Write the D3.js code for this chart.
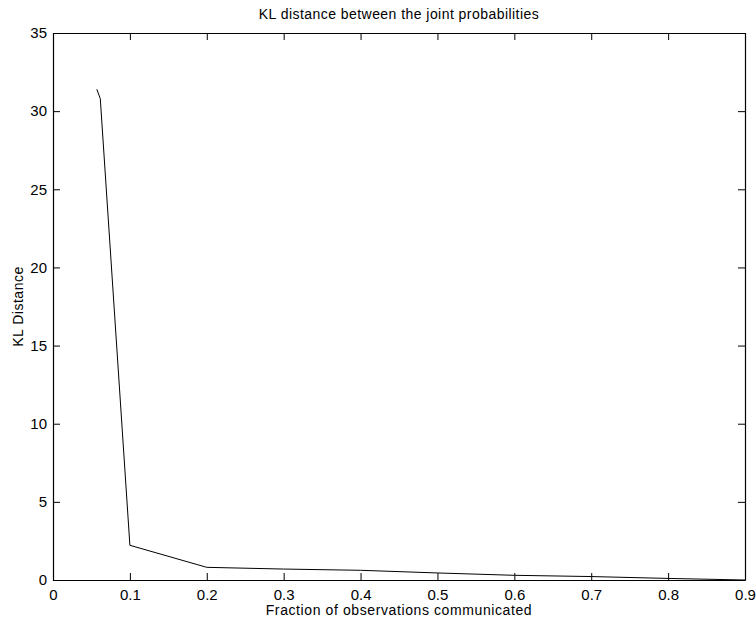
<!DOCTYPE html>
<html>
<head>
<meta charset="utf-8">
<script src="https://cdn.jsdelivr.net/npm/d3@7"></script>
<style>
  body { margin: 0; background: #fff; }
  svg text { font-family: "Liberation Sans", Arial, Helvetica, sans-serif; }
</style>
</head>
<body>
<svg id="chart"></svg>
<script>
// fraction of observations communicated vs KL distance
var fractions = [0.057, 0.0615, 0.1, 0.2, 0.3, 0.4, 0.5, 0.6, 0.7, 0.8, 0.9];
var klDist = [31.4, 30.8, 2.22, 0.81, 0.70, 0.62, 0.45, 0.30, 0.22, 0.10, 0.0];
var xTicks = [0, 0.1, 0.2, 0.3, 0.4, 0.5, 0.6, 0.7, 0.8, 0.9];
var yTicks = [0, 5, 10, 15, 20, 25, 30, 35];

var margin = {top: 33, right: 11, bottom: 40, left: 53},
    width = 756 - margin.left - margin.right,
    height = 620 - margin.top - margin.bottom;

var svg = d3.select("#chart")
    .attr("width", 756)
    .attr("height", 620);
var g = svg.append("g")
    .attr("transform", `translate(${margin.left}, ${margin.top})`);

var x = d3.scaleLinear().domain([0, 0.9]).range([0, width]);
var y = d3.scaleLinear().domain([0, 35]).range([height, 0]);

// axes with inward ticks, mirrored on top/right
g.append("g")
    .attr("transform", `translate(0, ${height})`)
    .call(d3.axisBottom(x).tickValues(xTicks).tickSizeInner(-7).tickSizeOuter(0).tickPadding(9)
        .tickFormat(d => d === 0 ? "0" : d3.format(".1f")(d)));
g.append("g")
    .call(d3.axisLeft(y).tickValues(yTicks).tickSizeInner(-7).tickSizeOuter(0).tickPadding(6));
g.append("g")
    .call(d3.axisTop(x).tickValues(xTicks).tickSizeInner(-7).tickSizeOuter(0).tickFormat(""));
g.append("g")
    .attr("transform", `translate(${width}, 0)`)
    .call(d3.axisRight(y).tickValues(yTicks).tickSizeInner(-7).tickSizeOuter(0).tickFormat(""));

g.selectAll(".domain").attr("stroke", "#000").attr("stroke-width", 1.2);
g.selectAll(".tick line").attr("stroke", "#000");
g.selectAll(".tick text").attr("font-size", 15).attr("fill", "#000");

var line = d3.line()
    .x((d, i) => x(fractions[i]))
    .y(d => y(d));

g.append("path")
    .datum(klDist)
    .attr("fill", "none")
    .attr("stroke", "#000")
    .attr("stroke-width", 1)
    .attr("d", line);

svg.append("text")
    .attr("x", margin.left + width / 2)
    .attr("y", 19)
    .attr("text-anchor", "middle")
    .attr("font-size", 14)
    .attr("letter-spacing", 0.45)
    .text("KL distance between the joint probabilities");

svg.append("text")
    .attr("x", margin.left + width / 2)
    .attr("y", 615)
    .attr("text-anchor", "middle")
    .attr("font-size", 14)
    .attr("letter-spacing", 0.6)
    .text("Fraction of observations communicated");

svg.append("text")
    .attr("transform", `translate(23, ${margin.top + height / 2}) rotate(-90)`)
    .attr("text-anchor", "middle")
    .attr("font-size", 14)
    .attr("letter-spacing", 0.5)
    .text("KL Distance");
</script>
</body>
</html>
